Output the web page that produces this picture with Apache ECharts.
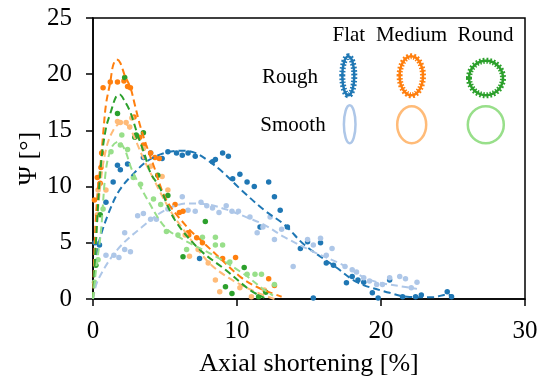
<!DOCTYPE html>
<html><head><meta charset="utf-8">
<script src="https://cdn.jsdelivr.net/npm/echarts@6/dist/echarts.min.js"></script>
<style>html,body{margin:0;padding:0;background:#fff}#c{width:539px;height:376px}</style>
</head><body><div id="c"></div>
<script>
const xTicks = [0, 10, 20, 30];
const yTicks = [0, 5, 10, 15, 20, 25];
const xLabel = 'Axial shortening [%]';
const yLabel = 'Ψ [°]';
const shapes = ['Flat', 'Medium', 'Round'];
const surfaces = ['Rough', 'Smooth'];

// scatter measurements [axial shortening %, psi deg]
const flatRoughPts = [[0.14,5.0],[0.45,4.8],[0.9,8.6],[1.4,10.4],[1.7,11.9],[1.9,11.5],[2.4,12.0],[3.5,12.6],[4.0,13.0],[4.8,12.5],[5.2,13.1],[5.8,13.0],[6.2,12.8],[6.6,13.0],[7.1,12.7],[7.4,3.6],[8.3,12.2],[8.5,12.4],[9.0,13.0],[9.4,12.7],[9.7,10.7],[10.2,11.1],[10.7,10.4],[11.2,10.0],[11.6,6.4],[12.2,10.4],[12.6,9.1],[13.0,7.9],[13.5,6.4],[14.4,4.5],[14.9,5.1],[15.3,0.1],[15.8,5.0],[16.2,3.2],[16.7,3.0],[17.6,1.45],[18.0,2.0],[18.4,1.7],[18.8,1.5],[19.4,0.55],[19.8,0.1],[20.6,1.7],[21.5,0.2],[22.4,0.2],[22.8,0.35],[24.6,0.65],[24.9,0.2]];
const flatSmoothPts = [[0.9,3.9],[1.45,3.9],[1.8,3.7],[2.2,4.4],[2.2,5.9],[2.6,4.2],[3.1,7.4],[3.5,7.6],[4.0,7.1],[4.4,7.1],[5.2,8.0],[6.2,9.1],[6.6,7.9],[7.1,7.8],[7.5,8.6],[7.9,8.3],[8.3,8.1],[8.75,7.7],[9.25,8.3],[9.65,7.8],[10.1,7.8],[10.9,7.3],[11.4,5.9],[11.8,6.4],[12.3,7.3],[12.6,5.3],[13.1,6.2],[13.9,2.9],[14.9,5.3],[15.3,4.8],[15.8,5.4],[16.2,3.9],[16.6,4.5],[17.5,2.9],[18.0,2.6],[18.3,2.4],[18.8,1.9],[19.2,1.6],[19.7,1.3],[20.1,1.3],[20.6,1.9],[21.3,2.0],[21.7,1.8],[22.1,1.0],[22.5,1.5]];
const medRoughPts = [[0.1,8.8],[0.3,10.8],[0.5,10.3],[0.55,11.7],[0.6,13.0],[0.7,18.8],[1.2,19.3],[1.7,19.3],[2.15,19.4],[2.4,18.9],[2.6,18.8],[2.85,16.2],[3.25,14.4],[3.5,13.7],[4.0,13.0],[4.3,12.6],[4.6,12.5],[5.7,8.4],[6.0,7.7],[6.25,7.8],[6.6,5.9],[6.65,5.7],[7.2,5.45],[7.6,5.0],[9.0,3.6],[9.9,3.7],[12.2,1.8],[12.6,1.2]];
const medSmoothPts = [[0.3,7.5],[0.35,9.7],[0.9,9.7],[1.7,15.8],[1.9,15.7],[2.3,15.7],[2.55,15.3],[2.7,16.1],[3.5,13.4],[4.0,11.8],[4.8,10.9],[5.2,9.7],[6.4,5.7],[6.7,3.8],[7.3,4.4],[8.0,3.2],[8.5,1.7],[8.8,0.65],[10.2,1.0],[11.0,0.2],[11.9,0.8]];
const roundRoughPts = [[0.2,3.0],[0.5,7.5],[1.7,16.5],[2.2,19.7],[2.9,14.4],[3.0,14.6],[3.5,14.8],[4.5,11.0],[5.2,9.2],[6.25,3.75],[7.8,6.9],[9.2,1.1],[9.65,0.5],[10.5,2.8],[11.5,0.2],[12.0,0.6]];
const roundSmoothPts = [[0.1,1.5],[0.35,3.5],[0.7,8.0],[1.25,13.1],[1.9,13.7],[2.0,14.6],[2.4,13.3],[2.8,10.8],[3.3,10.2],[4.2,8.9],[4.7,8.4],[5.1,6.0],[5.9,5.7],[6.5,4.4],[7.6,5.5],[8.5,5.5],[8.5,4.8],[9.0,4.8],[9.5,3.3],[10.7,2.2],[11.25,2.2],[11.7,2.2],[12.6,1.3]];

// fitted curves
const flatRoughFit = [[0,0],[0.2,3.5],[0.44,5.2],[1.1,7.7],[1.85,9.7],[2.85,11.2],[3.8,12.3],[5.0,13.0],[6.2,13.2],[7.1,13.0],[8.0,12.3],[9.0,11.3],[10.3,9.7],[11.9,7.9],[13.3,6.6],[14.7,4.8],[16.9,2.8],[18.4,1.45],[20.6,0.55],[21.8,0.2],[23.6,0.15],[24.6,0.4],[25,0.3]];
const flatSmoothFit = [[0,0],[0.35,1.7],[1.7,4.4],[3.4,6.4],[5.0,7.9],[6.6,8.5],[8.0,8.4],[9.4,7.9],[10.8,7.2],[11.9,6.6],[13.3,5.5],[15.3,4.2],[17.4,3.0],[19.2,1.7],[22.0,1.0],[22.5,0.9]];
const medRoughFit = [[0,0],[0.15,6],[0.35,10],[0.5,11.7],[0.7,14.6],[0.9,17.3],[1.2,19.3],[1.4,20.8],[1.65,21.3],[1.9,21.0],[2.2,19.9],[2.6,18.8],[2.9,17.3],[3.3,15.3],[3.7,13.7],[4.2,11.9],[5.1,8.8],[6.6,6.3],[7.3,5.45],[8.6,3.9],[10.3,1.9],[11.5,1.0],[13.1,0.2]];
const medSmoothFit = [[0,0],[0.2,5],[0.5,10],[0.9,13.3],[1.4,15.0],[2.0,15.7],[2.5,15.3],[3.0,14.0],[3.5,12.5],[4.0,11.2],[5.35,7.9],[6.5,5.8],[8.0,3.3],[9.4,1.9],[11.0,0.8],[12.6,0]];
const roundRoughFit = [[0,0],[0.2,5],[0.55,11.9],[0.9,15.2],[1.25,16.7],[1.6,18.0],[1.85,18.2],[2.2,17.6],[2.6,16.6],[3.1,14.6],[3.6,12.8],[4.0,11.2],[4.6,10.0],[5.7,7.0],[7.4,4.4],[9.2,2.6],[10.9,0.8],[11.9,0.1]];
const roundSmoothFit = [[0,0],[0.2,2.5],[0.55,6],[0.9,11.5],[1.3,13.5],[1.75,14.0],[2.2,13.3],[2.7,11.5],[3.8,8.8],[5.0,6.4],[6.25,5.3],[8.5,3.8],[10.5,2.2],[11.9,0.8],[12.5,0.3]];

const groups = [
  {pts: flatRoughPts, fit: flatRoughFit, color: '#1f77b4'},
  {pts: flatSmoothPts, fit: flatSmoothFit, color: '#aec7e8'},
  {pts: medRoughPts, fit: medRoughFit, color: '#ff7f0e'},
  {pts: medSmoothPts, fit: medSmoothFit, color: '#ffbb78'},
  {pts: roundRoughPts, fit: roundRoughFit, color: '#2ca02c'},
  {pts: roundSmoothPts, fit: roundSmoothFit, color: '#98df8a'}
];

const series = [];
groups.forEach(g => {
  series.push({type: 'scatter', data: g.pts, symbolSize: 5.5, itemStyle: {color: g.color, opacity: 1}, silent: true, z: 2});
  series.push({type: 'line', data: g.fit, smooth: 0.35, showSymbol: false, symbol: 'none',
    lineStyle: {color: g.color, width: 2, type: [7, 4]}, silent: true, z: 3});
});

const font = 'Liberation Serif';
const graphic = [];
// legend texts
const colX = [348.8, 411.5, 485.5];
shapes.forEach((s, i) => graphic.push({type: 'text', x: colX[i], y: 35, style: {text: s, font: '21px "Liberation Serif"', fill: '#000', align: 'center', verticalAlign: 'middle'}}));
graphic.push({type: 'text', x: 290, y: 77, style: {text: surfaces[0], font: '21px "Liberation Serif"', fill: '#000', align: 'center', verticalAlign: 'middle'}});
graphic.push({type: 'text', x: 293, y: 125, style: {text: surfaces[1], font: '21px "Liberation Serif"', fill: '#000', align: 'center', verticalAlign: 'middle'}});
// legend ellipses
const rough = [{cx: 348.3, cy: 75.8, rx: 6, ry: 19.5, c: '#1f77b4'}, {cx: 411.3, cy: 75.8, rx: 11.7, ry: 19.5, c: '#ff7f0e'}, {cx: 486, cy: 78, rx: 17, ry: 17.3, c: '#2ca02c'}];
const smooth = [{cx: 349.7, cy: 124.3, rx: 5.8, ry: 19, c: '#aec7e8'}, {cx: 411.7, cy: 124.7, rx: 14.5, ry: 18.5, c: '#ffbb78'}, {cx: 485.8, cy: 124.7, rx: 18, ry: 18.5, c: '#98df8a'}];
rough.forEach(e => {
  graphic.push({type: 'ellipse', shape: {cx: e.cx, cy: e.cy, rx: e.rx, ry: e.ry}, style: {fill: 'none', stroke: e.c, lineWidth: 2.5}});
  graphic.push({type: 'ellipse', shape: {cx: e.cx, cy: e.cy, rx: e.rx, ry: e.ry}, style: {fill: 'none', stroke: e.c, lineWidth: 6, lineDash: [1.6, 1.8]}});
});
smooth.forEach(e => graphic.push({type: 'ellipse', shape: {cx: e.cx, cy: e.cy, rx: e.rx, ry: e.ry}, style: {fill: 'none', stroke: e.c, lineWidth: 2.5}}));

const chart = echarts.init(document.getElementById('c'), null, {renderer: 'canvas'});
chart.setOption({
  animation: false,
  backgroundColor: '#fff',
  grid: {left: 93, top: 18, width: 432, height: 281, show: true, borderColor: '#000', borderWidth: 1.5, containLabel: false, outerBoundsMode: 'none'},
  xAxis: {type: 'value', min: xTicks[0], max: xTicks[xTicks.length - 1], interval: 10,
    name: xLabel, nameLocation: 'middle', nameGap: 52, nameMoveOverlap: false, nameTextStyle: {fontFamily: font, fontSize: 26, color: '#000'},
    axisLine: {show: true, onZero: false, lineStyle: {color: '#000', width: 1.5}},
    axisTick: {show: true, inside: false, length: 7, lineStyle: {color: '#000', width: 1.5}},
    axisLabel: {fontFamily: font, fontSize: 25, color: '#000', margin: 20},
    splitLine: {show: false}},
  yAxis: {type: 'value', min: yTicks[0], max: yTicks[yTicks.length - 1], interval: 5,
    name: yLabel, nameLocation: 'middle', nameGap: 51, nameMoveOverlap: false, nameRotate: 90, nameTextStyle: {fontFamily: font, fontSize: 26, color: '#000'},
    axisLine: {show: true, onZero: false, lineStyle: {color: '#000', width: 1.5}},
    axisTick: {show: true, inside: false, length: 7, lineStyle: {color: '#000', width: 1.5}},
    axisLabel: {fontFamily: font, fontSize: 25, color: '#000', margin: 21},
    splitLine: {show: false}},
  series: series,
  graphic: graphic
});
</script></body></html>
